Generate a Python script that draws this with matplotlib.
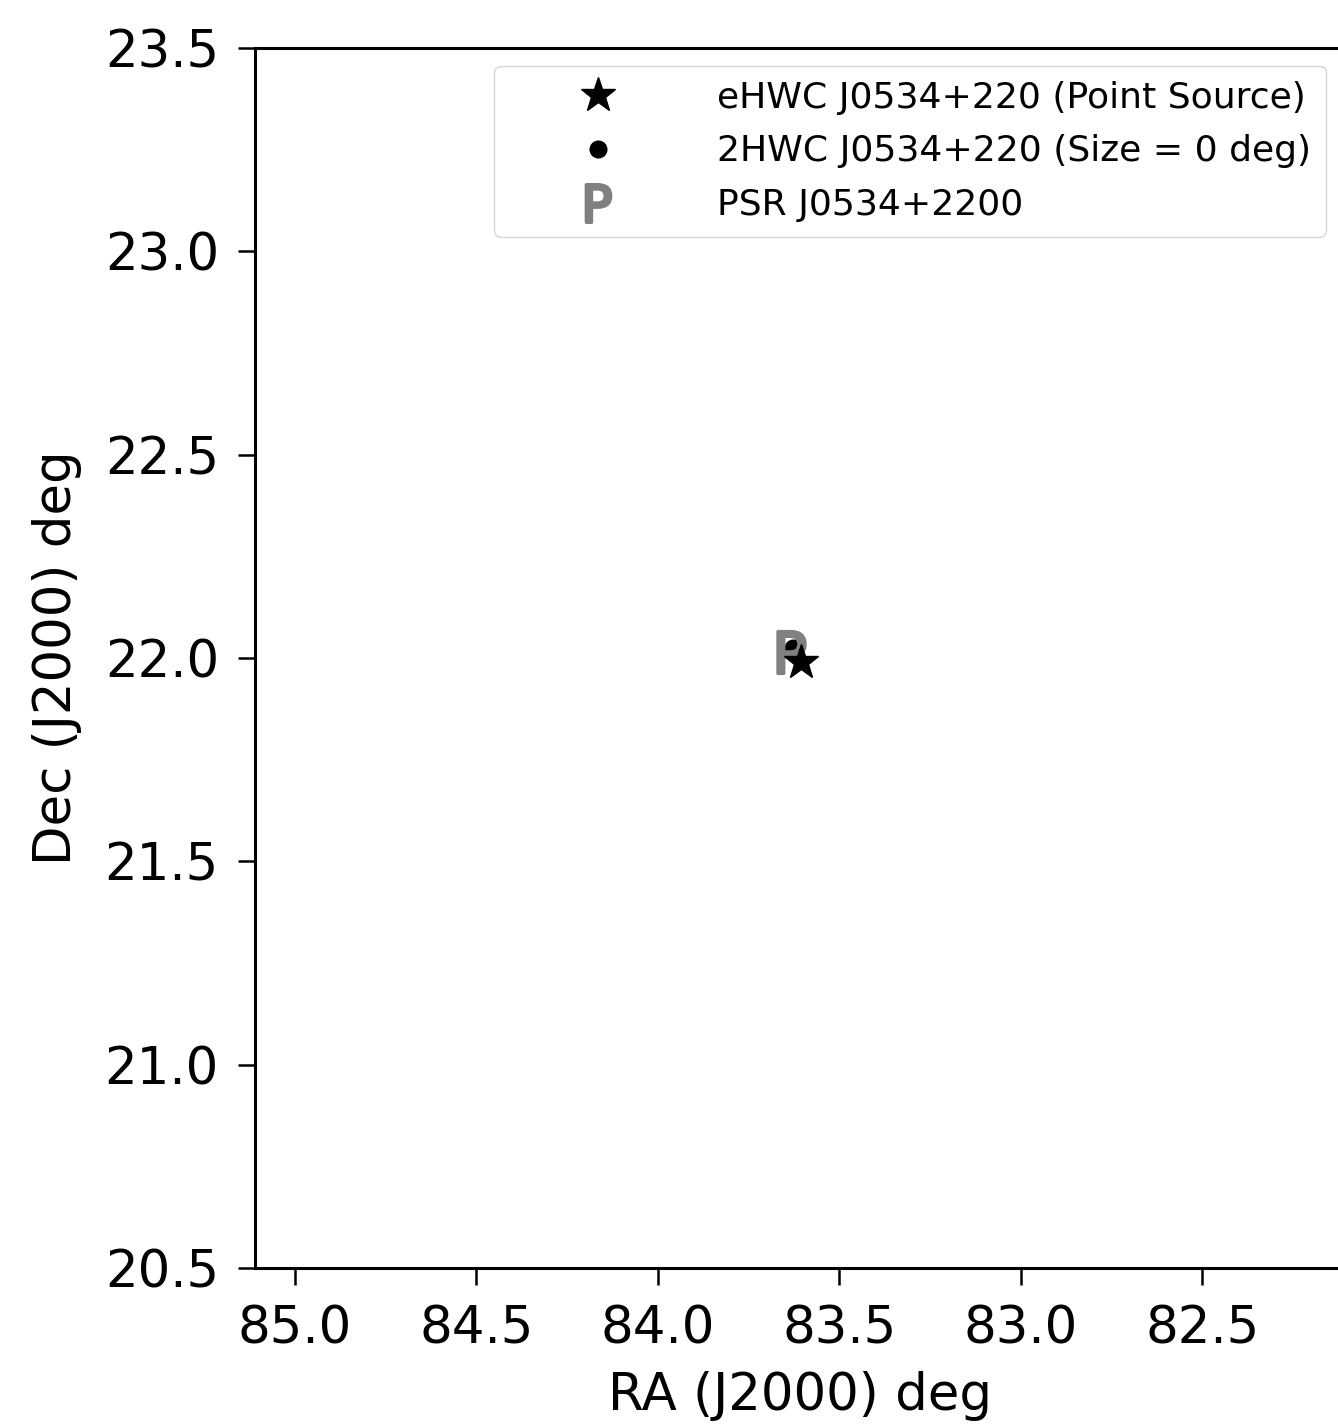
import matplotlib
matplotlib.use('Agg')
import matplotlib.pyplot as plt
from matplotlib.lines import Line2D

# Source positions (RA, Dec in degrees, J2000)
ehwc_ra, ehwc_dec = 83.605, 21.99
hwc2_ra, hwc2_dec = 83.628, 22.024
psr_ra, psr_dec = 83.633, 22.014

labels = ['eHWC J0534+220 (Point Source)',
          '2HWC J0534+220 (Size = 0 deg)',
          'PSR J0534+2200']

x_ticks = [85.0, 84.5, 84.0, 83.5, 83.0, 82.5]
y_ticks = [20.5, 21.0, 21.5, 22.0, 22.5, 23.0, 23.5]

plt.rcParams['mathtext.fontset'] = 'dejavusans'
psr_marker = r'$\mathsf{P}$'

fig = plt.figure(figsize=(13.38, 14.28), dpi=100)
ax = fig.add_axes([255 / 1338, 160 / 1428, (1344 - 255) / 1338, 1220 / 1428])

ax.plot(hwc2_ra, hwc2_dec, 'o', color='black', markersize=12, linestyle='none')
ax.plot(psr_ra, psr_dec, marker=psr_marker, color='gray', markersize=30,
        markeredgewidth=2.5, linestyle='none')
ax.plot(ehwc_ra, ehwc_dec, '*', color='black', markersize=26, linestyle='none')

ax.set_xlim(85.11, 82.11)
ax.set_ylim(20.5, 23.5)
ax.set_xticks(x_ticks)
ax.set_yticks(y_ticks)
ax.tick_params(labelsize=37, length=12, width=1.8, pad=14)
for sp in ax.spines.values():
    sp.set_linewidth(2.2)

ax.set_xlabel('RA (J2000) deg', fontsize=37, labelpad=12)
ax.set_ylabel('Dec (J2000) deg', fontsize=37, labelpad=16)

# legend proxies
handles = [
    Line2D([], [], marker='*', color='black', markersize=26, linestyle='none'),
    Line2D([], [], marker='o', color='black', markersize=12, linestyle='none'),
    Line2D([], [], marker=psr_marker, color='gray', markersize=27,
           markeredgewidth=2.5, linestyle='none'),
]
ax.legend(handles, labels, loc='upper right', fontsize=26,
          handlelength=5, labelspacing=0.55)

fig.savefig('out.png', dpi=100)
